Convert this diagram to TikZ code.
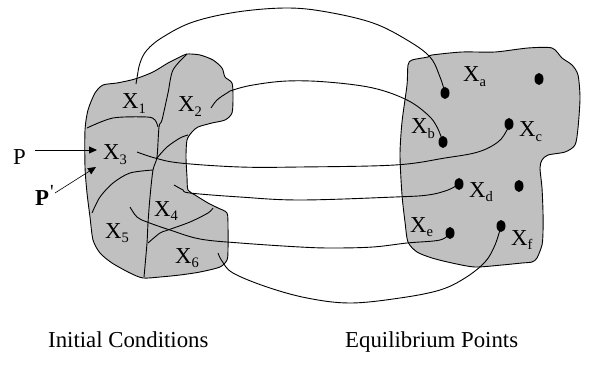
\documentclass[tikz,border=0pt]{standalone}
\usepackage{fontspec}
\setmainfont{Liberation Serif}
\usetikzlibrary{arrows.meta,shapes.geometric}
\definecolor{blobgray}{RGB}{192,192,192}
\newcommand\mysub[1]{\raisebox{-4.5pt}{\fontsize{14.5}{14.5}\selectfont #1}}
\tikzset{
  lbl/.style={anchor=base west, inner sep=0pt, font=\fontsize{22.8}{27}\selectfont},
  dot/.style={ellipse, fill=black, inner sep=0pt, minimum width=9pt, minimum height=12pt},
  blob/.style={fill=blobgray, draw=black, line width=0.9pt},
  part/.style={draw=black, line width=0.9pt},
  traj/.style={draw=black, line width=0.9pt},
  parrow/.style={line width=0.9pt, -{Triangle[length=8pt,width=7pt]}}
}
\begin{document}
\begin{tikzpicture}[x=1pt,y=-1pt]
\useasboundingbox (0,0) rectangle (602,374);
% left blob
\path[blob] plot[smooth cycle, tension=0.45] coordinates {
 (103,85) (117,83) (135,79) (153,72) (168,63) (180,57) (187,54) (200,55) (213,60)
 (222,68) (225,77) (232,83) (233,97) (232,113) (225,120) (212,123) (198,127)
 (192,132) (187,140) (186,157) (187,177) (188,190) (195,195) (208,203) (218,208)
 (227,213) (228,227) (228,250) (227,260) (220,267) (200,272) (180,275) (160,277)
 (143,278) (130,273) (112,263) (100,253) (93,240) (90,217) (87,193) (85,167)
 (85,130) (88,110) (95,93)};
% right blob
\path[blob] plot[smooth cycle, tension=0.45] coordinates {
 (408,65) (412,60) (428,57) (432,55) (462,52) (495,52) (528,48) (552,48) (562,58)
 (572,65) (578,75) (580,98) (578,128) (575,145) (565,152) (548,155) (542,160)
 (540,168) (542,188) (543,212) (543,232) (542,245) (537,258) (532,262) (522,263)
 (502,265) (475,267) (452,263) (432,258) (417,252) (408,242) (405,222) (402,195)
 (400,155) (402,122) (407,85)};
% partition lines
\draw[part] plot[smooth, tension=0.5] coordinates {(87,128) (113,118) (147,117) (155,120) (158,127)};
\draw[part] plot[smooth, tension=0.5] coordinates {(187,54) (173,70) (168,93) (162,120) (159,127) (157,157) (153,170) (150,197) (148,223) (147,243) (144,277)};
\draw[part] plot[smooth, tension=0.5] coordinates {(157,158) (167,147) (180,138) (188,135)};
\draw[part] plot[smooth, tension=0.5] coordinates {(153,170) (130,173) (113,183) (100,197) (92,213)};
\draw[part] plot[smooth, tension=0.5] coordinates {(148,243) (160,233) (168,230) (190,222) (208,213) (213,208)};
% equilibrium points
\node[dot] (da) at (445,93) {};
\node[dot] (dg) at (539,79) {};
\node[dot] (db) at (443,142) {};
\node[dot] (dc) at (509,124) {};
\node[dot] (dd) at (459,184) {};
\node[dot] (dh) at (519,186) {};
\node[dot] (de) at (450,233) {};
\node[dot] (df) at (501,226) {};
% trajectory starts
\coordinate (s1) at (136,84);
\coordinate (s2) at (211,108);
\coordinate (s3) at (137,152);
\coordinate (s4) at (174,185);
\coordinate (s5) at (130,207);
\coordinate (s6) at (218,253);
% trajectories
\draw[traj] plot[smooth, tension=0.6] coordinates {(s1) (137,78) (140,63) (147,50) (163,37) (193,22) (237,12) (287,8) (327,12) (373,23) (407,40) (430,57) (440,77) (da)};
\draw[traj] plot[smooth, tension=0.6] coordinates {(s2) (217,100) (227,93) (233,90) (253,85) (287,81) (327,82) (373,88) (407,100) (428,115) (437,127) (db)};
\draw[traj] plot[smooth, tension=0.6] coordinates {(s3) (155,158) (180,163) (240,167) (300,167) (395,165) (445,158) (478,152) (498,142) (507,130) (dc)};
\draw[traj] plot[smooth, tension=0.6] coordinates {(s4) (183,190) (190,193) (240,197) (300,200) (395,197) (428,195) (448,190) (dd)};
\draw[traj] plot[smooth, tension=0.6] coordinates {(s5) (137,217) (147,222) (170,230) (200,239) (240,243) (300,247) (333,248) (373,247) (407,243) (440,240) (de)};
\draw[traj] plot[smooth, tension=0.6] coordinates {(s6) (222,261) (233,273) (267,287) (307,298) (350,303) (400,298) (440,290) (465,278) (485,262) (495,245) (df)};
% region labels
\node[lbl] (x1) at (122,109) {X\mysub{1}};
\node[lbl] (x2) at (178,112) {X\mysub{2}};
\node[lbl] (x3) at (103,160) {X\mysub{3}};
\node[lbl] (x4) at (154,216) {X\mysub{4}};
\node[lbl] (x5) at (105,238) {X\mysub{5}};
\node[lbl] (x6) at (175,263) {X\mysub{6}};
\node[lbl] (xa) at (463,82) {X\mysub{a}};
\node[lbl] (xb) at (411,134) {X\mysub{b}};
\node[lbl] (xc) at (519,137) {X\mysub{c}};
\node[lbl] (xd) at (469,197) {X\mysub{d}};
\node[lbl] (xe) at (410,232) {X\mysub{e}};
\node[lbl] (xf) at (511,245) {X\mysub{f}};
% P arrows
\node[lbl] (p) at (13,165) {P};
\node[lbl] (pp) at (35,205) {\textbf{P}\kern1pt\raisebox{7pt}{\fontsize{20}{20}\selectfont\textquotesingle}};
\coordinate (pt) at (97,150);
\coordinate (ppt) at (96,167);
\coordinate (ps) at (35,150);
\coordinate (pps) at (55,193);
\draw[parrow] (ps) -- (pt);
\draw[line width=0.6pt, -{Triangle[length=8pt,width=7pt]}] (pps) -- (ppt);
% captions
\node[lbl] (ic) at (48,347) {Initial Conditions};
\node[lbl] (ep) at (345,347) {Equilibrium Points};
\end{tikzpicture}
\end{document}
